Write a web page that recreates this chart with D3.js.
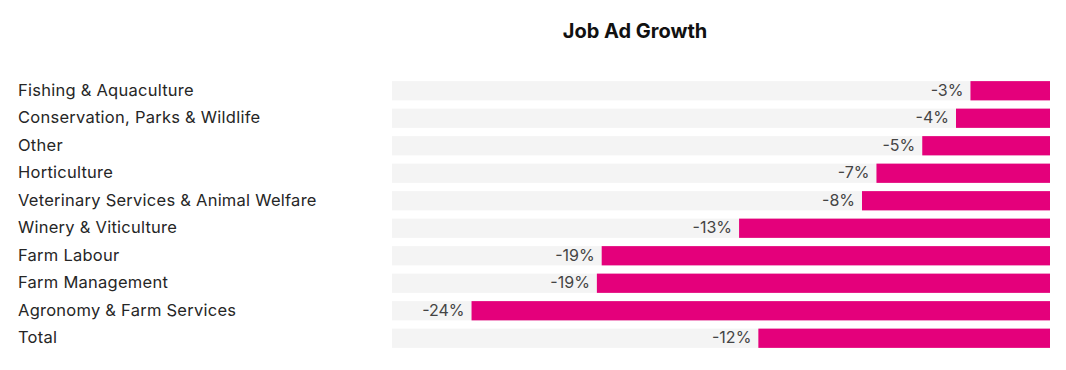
<!DOCTYPE html>
<html>
<head>
<meta charset="utf-8">
<script src="https://cdn.jsdelivr.net/npm/d3@7"></script>
<style>
  body { margin: 0; background: #fff; }
  svg { font-family: Inter, Roboto, sans-serif; }
</style>
</head>
<body>
<svg width="1066" height="370"></svg>
<script>
// --- Data ---
const categories = [
    "Fishing & Aquaculture", "Conservation, Parks & Wildlife", "Other", "Horticulture",
    "Veterinary Services & Animal Welfare", "Winery & Viticulture", "Farm Labour",
    "Farm Management", "Agronomy & Farm Services", "Total"
];
const growth = [-3.3, -3.9, -5.3, -7.2, -7.8, -12.9, -18.6, -18.8, -24.0, -12.1];

const svg = d3.select("svg"),
    width = +svg.attr("width"),
    height = +svg.attr("height");

// --- Scales ---
const x = d3.scaleLinear().domain([-27.3, 0]).range([392, 1050]);
const y = d3.scaleBand().domain(categories).range([77, 352])
    .paddingInner(0.3).paddingOuter(0.15);

const rows = categories.map((c, i) => ({ cat: c, val: growth[i] }));

// --- Title ---
svg.append("text")
    .attr("x", 635)
    .attr("y", 38)
    .attr("text-anchor", "middle")
    .attr("font-size", "20px")
    .attr("font-weight", "bold")
    .attr("fill", "#111")
    .text("Job Ad Growth");

// --- Background tracks ---
svg.append("g").selectAll("rect")
    .data(rows)
    .enter().append("rect")
    .attr("x", x.range()[0])
    .attr("y", d => y(d.cat))
    .attr("width", x.range()[1] - x.range()[0])
    .attr("height", y.bandwidth())
    .attr("fill", "#f4f4f4");

// --- Bars ---
svg.append("g").selectAll("rect")
    .data(rows)
    .enter().append("rect")
    .attr("x", d => x(d.val))
    .attr("y", d => y(d.cat))
    .attr("width", d => x(0) - x(d.val))
    .attr("height", y.bandwidth())
    .attr("fill", "#e4007b");

// --- Value labels ---
svg.append("g").selectAll("text")
    .data(rows)
    .enter().append("text")
    .attr("x", d => x(d.val) - 7)
    .attr("y", d => y(d.cat) + y.bandwidth() / 2 - 1)
    .attr("dy", "0.36em")
    .attr("text-anchor", "end")
    .attr("font-size", "16px")
    .attr("fill", "#444")
    .text(d => Math.round(d.val) + "%");

// --- Category labels ---
svg.append("g").selectAll("text")
    .data(rows)
    .enter().append("text")
    .attr("x", 18)
    .attr("y", d => y(d.cat) + y.bandwidth() / 2 - 1)
    .attr("dy", "0.36em")
    .attr("font-size", "16.5px")
    .attr("letter-spacing", "0.25px")
    .attr("fill", "#262626")
    .text(d => d.cat);
</script>
</body>
</html>
